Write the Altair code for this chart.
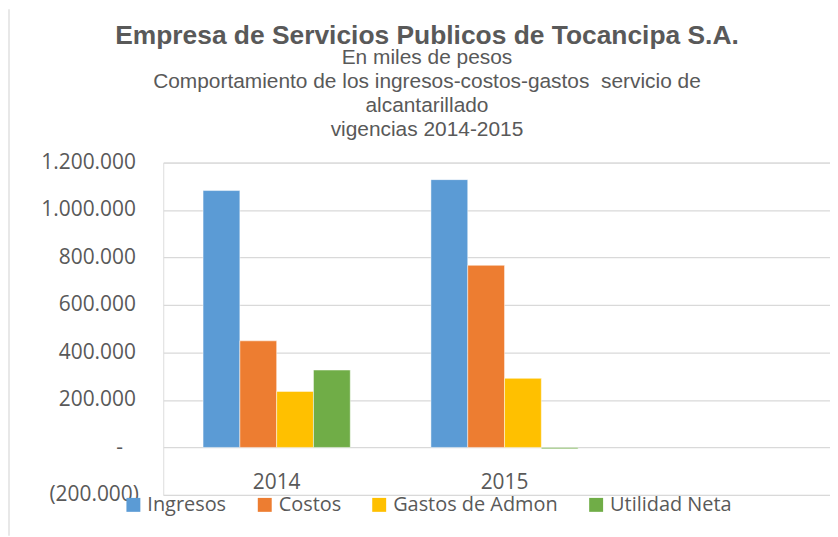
import altair as alt
import pandas as pd

years = ["2014", "2015"]
series = ["Ingresos", "Costos", "Gastos de Admon", "Utilidad Neta"]
ingresos = [1082000, 1128000]
costos = [449000, 767000]
gastos = [236000, 291000]
utilidad = [326000, -6000]
colors = ["#5B9BD5", "#ED7D31", "#FFC000", "#70AD47"]
y_ticks = [-200000, 0, 200000, 400000, 600000, 800000, 1000000, 1200000]

rows = []
for s, vals in zip(series, [ingresos, costos, gastos, utilidad]):
    for y, v in zip(years, vals):
        rows.append({"Vigencia": y, "Serie": s, "Valor": v})
df = pd.DataFrame(rows)

W, H = 670, 334
txt = "#595959"
font = "Open Sans"

label_expr = (
    "datum.value == 0 ? '-' : (datum.value < 0 ? "
    "'(' + replace(replace(format(-datum.value, ','), ',', '.'), ',', '.') + ')' : "
    "replace(replace(format(datum.value, ','), ',', '.'), ',', '.'))"
)
label_pad = {
    "condition": [
        {"test": "datum.value == 0", "value": 41},
        {"test": "datum.value < 0", "value": 25},
    ],
    "value": 28,
}

bars = alt.Chart(df).mark_bar(stroke="white", strokeWidth=0.8, strokeOpacity=0.6).encode(
    x=alt.X("Vigencia:N", sort=years, title=None,
            scale=alt.Scale(paddingInner=0.354, paddingOuter=0.64, align=0.1365),
            axis=alt.Axis(labelAngle=0, domain=False, ticks=False, offset=-47.7,
                          labelPadding=24, labelFont=font, labelFontSize=21,
                          labelColor=txt)),
    xOffset=alt.XOffset("Serie:N", sort=series,
                        scale=alt.Scale(paddingInner=0, paddingOuter=0)),
    y=alt.Y("Valor:Q", title=None,
            scale=alt.Scale(domain=[-200000, 1200000], nice=False, zero=False),
            axis=alt.Axis(values=y_ticks, labelExpr=label_expr, domain=False,
                          ticks=False, labelPadding=label_pad, labelFont=font,
                          labelFontSize=21, labelColor=txt, gridColor="#D9D9D9",
                          gridWidth=1.3)),
    color=alt.Color("Serie:N", sort=series,
                    scale=alt.Scale(domain=series, range=colors),
                    legend=alt.Legend(title=None, orient="none", direction="horizontal",
                                      legendX=-40, legendY=334, symbolType="square",
                                      symbolSize=196, symbolStrokeWidth=0,
                                      labelFont=font, labelFontSize=20, labelLimit=400,
                                      labelColor=txt, columnPadding=28,
                                      labelOffset=4)),
)

border = alt.Chart(alt.Data(values=[{}])).mark_rule(color="#D9D9D9", strokeWidth=1.2).encode(
    x=alt.value(-155), y=alt.value(-154), y2=alt.value(375)
)

chart = alt.layer(border, bars).properties(
    width=W,
    height=H,
    title=alt.TitleParams(
        text="Empresa de Servicios Publicos de Tocancipa S.A.",
        subtitle=["En miles de pesos",
                  "Comportamiento de los ingresos-costos-gastos \u00a0servicio de",
                  "alcantarillado",
                  "vigencias 2014-2015"],
        anchor="middle", dx=-70, offset=-132,
        font="Liberation Sans", fontSize=26.5, fontWeight="bold", color=txt,
        subtitleFont="Liberation Sans", subtitleFontSize=21, subtitleColor=txt,
        subtitleLineHeight=24, subtitlePadding=-2,
    ),
    autosize=alt.AutoSizeParams(type="none"),
    padding={"left": 156, "top": 154, "right": 0, "bottom": 41},
).configure_view(stroke=None).configure(background="white")

chart.save("out.html", embed_options={"renderer": "svg", "actions": False})
